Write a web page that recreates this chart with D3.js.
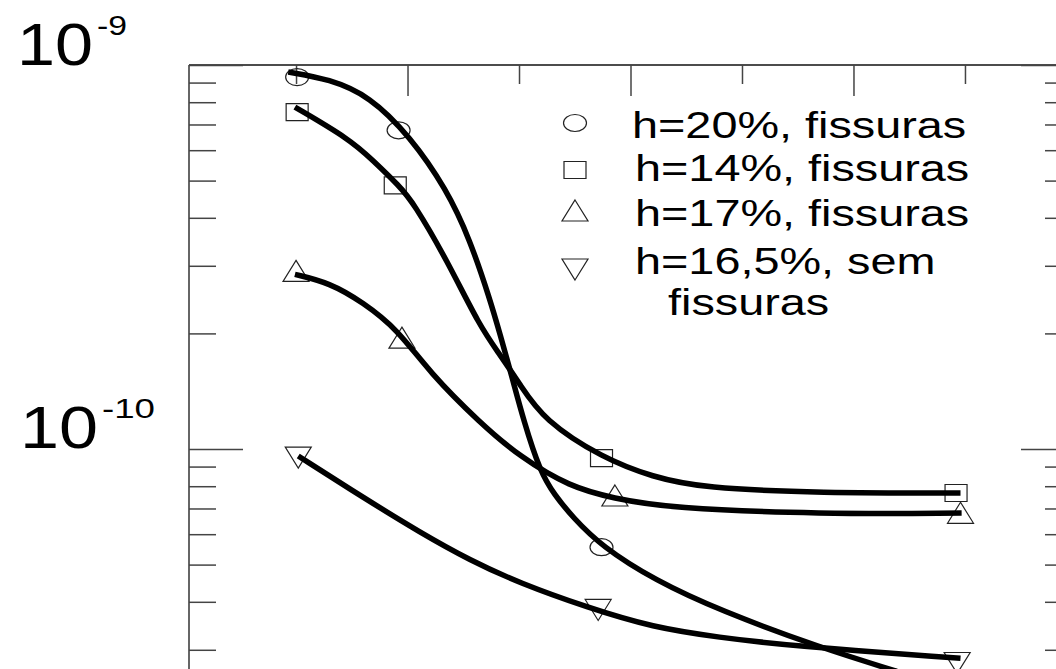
<!DOCTYPE html>
<html>
<head>
<meta charset="utf-8">
<script src="https://cdn.jsdelivr.net/npm/d3@7"></script>
<style>
  body { margin: 0; background: #fff; }
  svg { display: block; }
  text { font-family: "Liberation Sans", Arial, sans-serif; fill: #000; }
</style>
</head>
<body>
<svg width="1056" height="669"></svg>
<script>
// x is in axis-tick units (no labels on the figure), y is the log quantity
const xTicksMajor = [2, 4, 6, 8];
const xTicksMinor = [1, 3, 5, 7];
const yTicksMajor = [1e-9, 1e-10];
const yTicksMinor = [9e-10, 8e-10, 7e-10, 6e-10, 5e-10, 4e-10, 3e-10, 2e-10,
                     9e-11, 8e-11, 7e-11, 6e-11, 5e-11, 4e-11, 3e-11];

// measured points
const circleX = [1.01, 1.92, 3.74, 6.94];
const circleY = [9.30e-10, 6.76e-10, 5.55e-11, 2.35e-11];
const squareX = [1.01, 1.89, 3.74, 6.92];
const squareY = [7.54e-10, 4.86e-10, 9.47e-11, 7.68e-11];
const triUpX = [1.00, 1.95, 3.86, 6.96];
const triUpY = [2.85e-10, 1.91e-10, 7.41e-11, 6.68e-11];
const triDownX = [1.02, 3.71, 6.93];
const triDownY = [9.70e-11, 3.89e-11, 2.83e-11];

// fitted curves
const circleFitX = [0.93, 1.30, 1.66, 2.02, 2.35, 2.56, 2.74, 2.83, 2.94, 3.04, 3.19, 3.32, 3.48, 3.74, 4.22, 4.80, 5.70, 6.42, 6.94];
const circleFitY = [9.59e-10, 9.19e-10, 8.30e-10, 6.53e-10, 4.75e-10, 3.51e-10, 2.45e-10, 1.99e-10, 1.53e-10, 1.19e-10,
                    8.71e-11, 7.59e-11, 6.65e-11, 5.58e-11, 4.55e-11, 3.80e-11, 3.04e-11, 2.62e-11, 2.35e-11];
const squareFitX = [0.99, 1.48, 1.68, 1.93, 2.05, 2.35, 2.65, 2.83, 3.01, 3.22, 3.75, 4.20, 4.65, 5.70, 6.96];
const squareFitY = [7.77e-10, 6.41e-10, 5.68e-10, 4.83e-10, 4.39e-10, 3.12e-10, 2.08e-10, 1.76e-10, 1.47e-10, 1.19e-10,
                    9.47e-11, 8.45e-11, 7.91e-11, 7.68e-11, 7.68e-11];
const triUpFitX = [0.99, 1.30, 1.60, 1.91, 2.20, 2.65, 3.01, 3.46, 3.84, 4.35, 5.70, 6.97];
const triUpFitY = [2.85e-10, 2.71e-10, 2.41e-10, 2.05e-10, 1.58e-10, 1.17e-10, 9.53e-11, 7.96e-11, 7.45e-11, 7.01e-11, 6.77e-11, 6.81e-11];
const triDownFitX = [1.02, 1.64, 2.11, 2.56, 3.01, 3.61, 4.20, 4.80, 5.40, 6.96];
const triDownFitY = [9.59e-11, 7.36e-11, 6.07e-11, 5.13e-11, 4.47e-11, 3.87e-11, 3.43e-11, 3.23e-11, 3.08e-11, 2.85e-11];

const legendSymbols = ['circle', 'square', 'triUp', 'triDown'];
const legendLabels = ['h=20%, fissuras', 'h=14%, fissuras', 'h=17%, fissuras', 'h=16,5%, sem', 'fissuras'];

const svg = d3.select('svg');

const x = d3.scaleLinear().domain([0.04, 7.96]).range([189, 1072]);
const y = d3.scaleLog().domain([1e-9, 1e-10]).range([65, 449]);

// frame
svg.append('line').attr('x1', 189).attr('x2', 189).attr('y1', 65).attr('y2', 669)
  .attr('stroke', '#333').attr('stroke-width', 1.5);
svg.append('line').attr('x1', 189).attr('x2', 1072).attr('y1', 65).attr('y2', 65)
  .attr('stroke', '#111').attr('stroke-width', 1.5);
svg.append('line').attr('x1', 1072).attr('x2', 1072).attr('y1', 65).attr('y2', 669)
  .attr('stroke', '#333').attr('stroke-width', 1.5);

function tidy(g) {
  g.select('.domain').remove();
  g.selectAll('.tick text').remove();
  g.selectAll('.tick line').attr('stroke', '#444').attr('stroke-width', 1.5);
}

// top ticks, pointing down into the plot
svg.append('g').attr('transform', 'translate(0,65)')
  .call(d3.axisBottom(x).tickValues(xTicksMajor).tickSize(31)).call(tidy);
svg.append('g').attr('transform', 'translate(0,65)')
  .call(d3.axisBottom(x).tickValues(xTicksMinor).tickSize(19)).call(tidy);

// left and right ticks
svg.append('g').attr('transform', 'translate(189,0)')
  .call(d3.axisRight(y).tickValues(yTicksMajor).tickSize(54)).call(tidy);
svg.append('g').attr('transform', 'translate(189,0)')
  .call(d3.axisRight(y).tickValues(yTicksMinor).tickSize(27)).call(tidy);
svg.append('g').attr('transform', 'translate(1072,0)')
  .call(d3.axisLeft(y).tickValues(yTicksMajor).tickSize(51)).call(tidy);
svg.append('g').attr('transform', 'translate(1072,0)')
  .call(d3.axisLeft(y).tickValues(yTicksMinor).tickSize(27)).call(tidy);

// y labels 10^-9 and 10^-10
function powerLabel(exp, bx, by, wBase, wExp) {
  svg.append('text').attr('x', bx).attr('y', by).attr('font-size', 60)
    .attr('textLength', wBase).attr('lengthAdjust', 'spacingAndGlyphs').text('10');
  svg.append('text').attr('x', bx + wBase + 4).attr('y', by - 30).attr('font-size', 27)
    .attr('textLength', wExp).attr('lengthAdjust', 'spacingAndGlyphs').text(exp);
}
powerLabel('-9', 17, 65, 76, 30);
powerLabel('-10', 20, 448, 78, 53);

// marker shapes (the figure is stretched sideways, so they are wider than tall)
function shape(type, cx, cy) {
  if (type === 'circle') {
    return `M${cx - 11.5},${cy}a11.5,8.5 0 1,0 23,0a11.5,8.5 0 1,0 -23,0Z`;
  }
  if (type === 'square') {
    return `M${cx - 11},${cy - 8.5}h22v17h-22Z`;
  }
  if (type === 'triUp') {
    return `M${cx},${cy - 14}L${cx + 13},${cy + 7}L${cx - 13},${cy + 7}Z`;
  }
  return `M${cx},${cy + 14}L${cx + 13},${cy - 7}L${cx - 13},${cy - 7}Z`;
}

const series = [
  {type: 'circle', xs: circleX, ys: circleY, fx: circleFitX, fy: circleFitY},
  {type: 'square', xs: squareX, ys: squareY, fx: squareFitX, fy: squareFitY},
  {type: 'triUp', xs: triUpX, ys: triUpY, fx: triUpFitX, fy: triUpFitY},
  {type: 'triDown', xs: triDownX, ys: triDownY, fx: triDownFitX, fy: triDownFitY}
];

series.forEach(s => {
  svg.append('g').selectAll('path')
    .data(s.xs.map((v, i) => [v, s.ys[i]])).enter()
    .append('path')
    .attr('d', d => shape(s.type, x(d[0]), y(d[1])))
    .attr('fill', 'none').attr('stroke', '#222').attr('stroke-width', 1.2);
});

// smooth fit lines
const line = d3.line().x(d => x(d[0])).y(d => y(d[1])).curve(d3.curveBasis);
series.forEach(s => {
  svg.append('path')
    .datum(s.fx.map((v, i) => [v, s.fy[i]]))
    .attr('d', line)
    .attr('fill', 'none').attr('stroke', '#000').attr('stroke-width', 5.5)
    .attr('stroke-linecap', 'butt');
});

// legend
const legendRowsY = [123, 170, 214, 266];
legendSymbols.forEach((t, i) => {
  svg.append('path').attr('d', shape(t, 575, legendRowsY[i]))
    .attr('fill', 'none').attr('stroke', '#222').attr('stroke-width', 1.2);
});
const labelPos = [[632, 138], [635, 181], [635, 226], [635, 274], [668, 315]];
legendLabels.forEach((t, i) => {
  svg.append('text')
    .attr('transform', `translate(${labelPos[i][0]},${labelPos[i][1]}) scale(1.3,1)`)
    .attr('font-size', 36).text(t);
});
</script>
</body>
</html>
